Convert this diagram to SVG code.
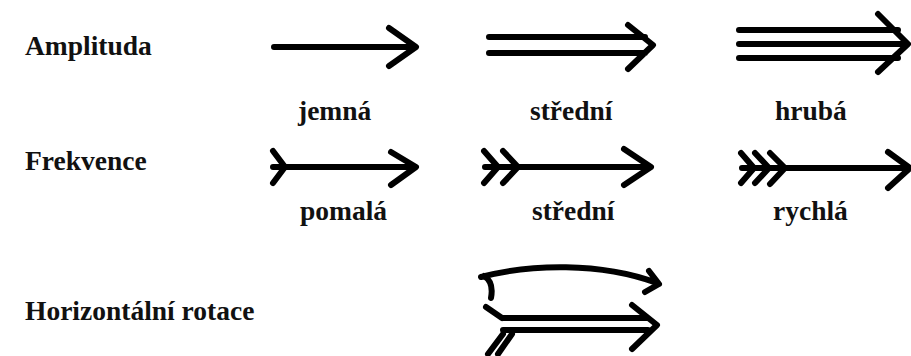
<svg xmlns="http://www.w3.org/2000/svg" width="911" height="356" viewBox="0 0 911 356">
<style>
.lbl{font-family:"Liberation Serif","Times New Roman",serif;font-weight:bold;font-size:27.5px;fill:#111}
.a{fill:none;stroke:#000;stroke-width:6;stroke-linecap:round;stroke-linejoin:round}
</style>
<rect width="911" height="356" fill="#fff"/>
<g id="labels">
<text class="lbl" x="25" y="55">Amplituda</text>
<text class="lbl" x="25" y="170">Frekvence</text>
<text class="lbl" x="25" y="320">Horizontální rotace</text>
<text class="lbl" x="298" y="120">jemná</text>
<text class="lbl" x="530" y="120">střední</text>
<text class="lbl" x="775" y="120">hrubá</text>
<text class="lbl" x="300" y="220">pomalá</text>
<text class="lbl" x="532" y="220">střední</text>
<text class="lbl" x="773" y="220">rychlá</text>
</g>
<g id="connectors">
<g id="amp-jemna">
<path class="a" d="M274 47 H415 M389 28 L416 47 L389 66"/>
</g>
<g id="amp-stredni">
<path class="a" d="M489 37 H645 M489 53 H645 M628 25 L653 45 L628 69"/>
</g>
<g id="amp-hruba">
<path class="a" d="M739 30 H898 M739 44 H903 M739 58 H898 M878 14 L908 44 L878 72"/>
</g>
<g id="frek-pomala">
<path class="a" d="M273 167 H415 M273 151 L285 167 L273 183 M391 152 L416 167 L391 185"/>
</g>
<g id="frek-stredni">
<path class="a" d="M485 167 H650 M484 151 L498 167 L484 183 M503 151 L518 167 L503 183 M624 149 L651 167 L624 185"/>
</g>
<g id="frek-rychla">
<path class="a" d="M742 168 H909 M741 153 L754 168 L741 183 M755 153 L769 168 L755 183 M770 153 L785 168 L770 184 M888 152 L910 168 L888 188"/>
</g>
<g id="rotace">
<path class="a" d="M481 277 C530 264 600 262 657 283 M649 271 L659 284 L645 292 M484 276 Q494 282 491 298"/>
<path class="a" d="M503 318 H648 M503 330 H648 M632 305 L657 325 L632 349 M486 307 L502 318 M488 354 L503 334 M498 354 L512 334"/>
</g>
</g>
</svg>
